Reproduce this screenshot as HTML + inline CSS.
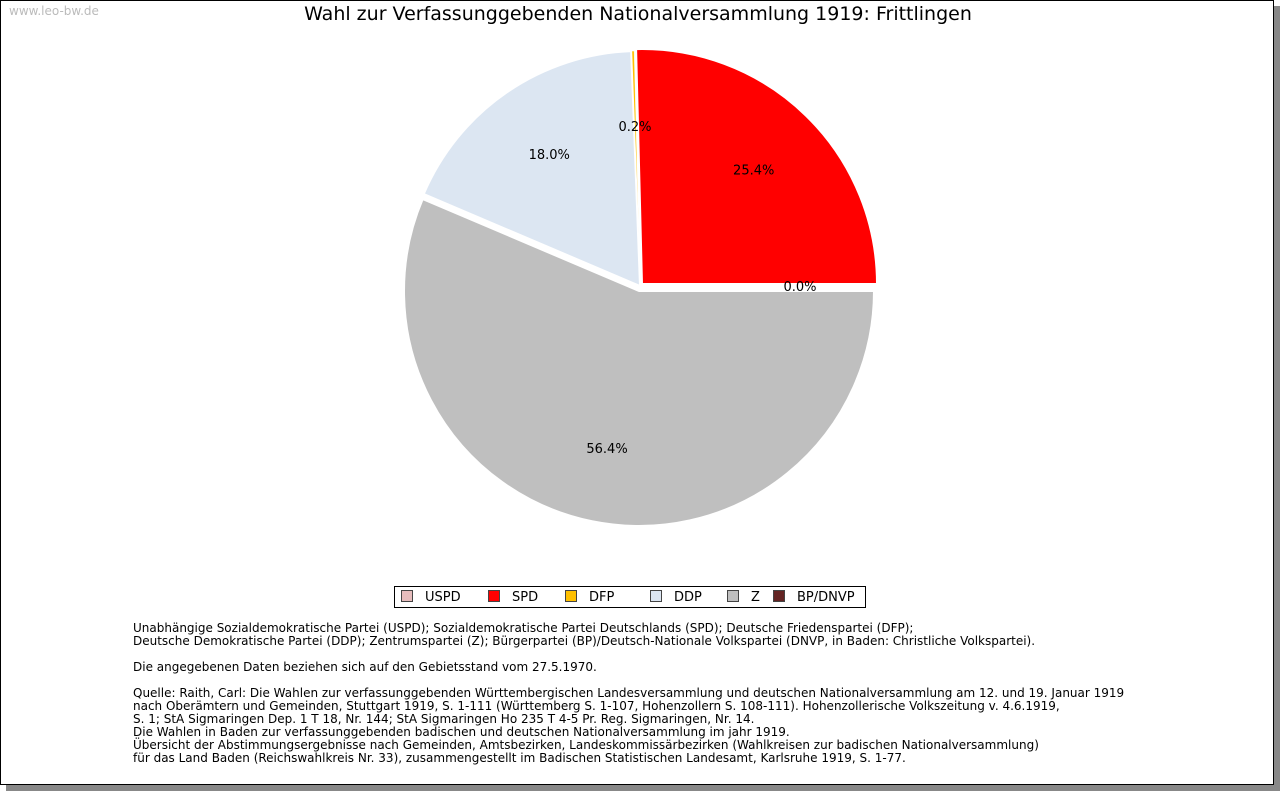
<!DOCTYPE html>
<html><head><meta charset="utf-8">
<style>
body{margin:0;width:1280px;height:791px;background:#fff;font-family:"DejaVu Sans","Liberation Sans",sans-serif;position:relative;overflow:hidden}
#frame{position:absolute;left:0;top:0;width:1272px;height:783px;border:1px solid #000;box-shadow:6px 6px 0 #888;background:#fff}
#wm{position:absolute;left:9px;top:4px;font-size:12px;color:#bbb}
#title{position:absolute;left:0;width:1276px;top:3px;text-align:center;font-size:19px;color:#000}
#legend{position:absolute;left:394px;top:586px;width:470px;height:20px;border:1px solid #000;font-size:13px}
.li{position:absolute;top:3px;height:14px;line-height:14px}
.sw{display:inline-block;width:10px;height:10px;border:1px solid #444;vertical-align:-1px;margin-right:12px}
#notes{position:absolute;left:133px;top:622px;font-size:12px;line-height:13px;color:#000;white-space:pre}
</style></head><body>
<div id="frame"></div>
<div id="wm">www.leo-bw.de</div>
<div id="title">Wahl zur Verfassunggebenden Nationalversammlung 1919: Frittlingen</div>
<svg id="pie" width="1280" height="791" style="position:absolute;left:0;top:0"></svg>
<div id="legend"></div>
<div id="notes">Unabhängige Sozialdemokratische Partei (USPD); Sozialdemokratische Partei Deutschlands (SPD); Deutsche Friedenspartei (DFP);
Deutsche Demokratische Partei (DDP); Zentrumspartei (Z); Bürgerpartei (BP)/Deutsch-Nationale Volkspartei (DNVP, in Baden: Christliche Volkspartei).

Die angegebenen Daten beziehen sich auf den Gebietsstand vom 27.5.1970.

Quelle: Raith, Carl: Die Wahlen zur verfassunggebenden Württembergischen Landesversammlung und deutschen Nationalversammlung am 12. und 19. Januar 1919
nach Oberämtern und Gemeinden, Stuttgart 1919, S. 1-111 (Württemberg S. 1-107, Hohenzollern S. 108-111). Hohenzollerische Volkszeitung v. 4.6.1919,
S. 1; StA Sigmaringen Dep. 1 T 18, Nr. 144; StA Sigmaringen Ho 235 T 4-5 Pr. Reg. Sigmaringen, Nr. 14.
Die Wahlen in Baden zur verfassunggebenden badischen und deutschen Nationalversammlung im jahr 1919.
Übersicht der Abstimmungsergebnisse nach Gemeinden, Amtsbezirken, Landeskommissärbezirken (Wahlkreisen zur badischen Nationalversammlung)
für das Land Baden (Reichswahlkreis Nr. 33), zusammengestellt im Badischen Statistischen Landesamt, Karlsruhe 1919, S. 1-77.</div>
<script>
const parties=["USPD","SPD","DFP","DDP","Z","BP/DNVP"];
const shares=[0.0,25.4,0.2,18.0,56.4,0.0];
const colors=["#e6bcbc","#ff0000","#ffc000","#dce6f2","#bfbfbf","#632423"];
const NS="http://www.w3.org/2000/svg";
const svg=document.getElementById('pie');
const total=shares.reduce((a,b)=>a+b,0);
const R=235;
let a0=0;
const labels=[];
shares.forEach((v,i)=>{
  const sweep=v/total*2*Math.PI;
  const a1=a0+sweep;
  const x=(i===4)?639:(i===1?642:640), y=(i===4)?291:(i===1?284:286);
  if(sweep>0){
    const p=document.createElementNS(NS,'path');
    const x0=x+R*Math.cos(a0),y0=y-R*Math.sin(a0),x1=x+R*Math.cos(a1),y1=y-R*Math.sin(a1);
    p.setAttribute('d',`M${x},${y}L${x0},${y0}A${R},${R} 0 ${sweep>Math.PI?1:0} 0 ${x1},${y1}Z`);
    p.setAttribute('fill',colors[i]);
    p.setAttribute('stroke','#fff');p.setAttribute('stroke-width',i===2?'0.3':'2');
    
    
    svg.appendChild(p);
  }
  const am=(a0+a1)/2;
  const lr=160;
  if(i!==5) labels.push([x+lr*Math.cos(am),y-lr*Math.sin(am)+5,v,i]);
  a0=a1;
});
labels.forEach(([lx,ly,v,i])=>{
  const t=document.createElementNS(NS,'text');
  t.setAttribute('x',lx);t.setAttribute('y',ly);
  t.setAttribute('text-anchor','middle');t.setAttribute('font-size','13');
  t.setAttribute('font-family','DejaVu Sans, sans-serif');
  t.textContent=v.toFixed(1)+'%';
  
  
  svg.appendChild(t);
});
const leg=document.getElementById('legend');
parties.forEach((p,i)=>{
  const d=document.createElement('div');
  d.className='li';d.style.left=[6,93,170,255,332,378][i]+'px';
  d.innerHTML=`<span class="sw" style="background:${colors[i]}"></span>${p}`;
  
  
  leg.appendChild(d);
});
</script>
</body></html>
